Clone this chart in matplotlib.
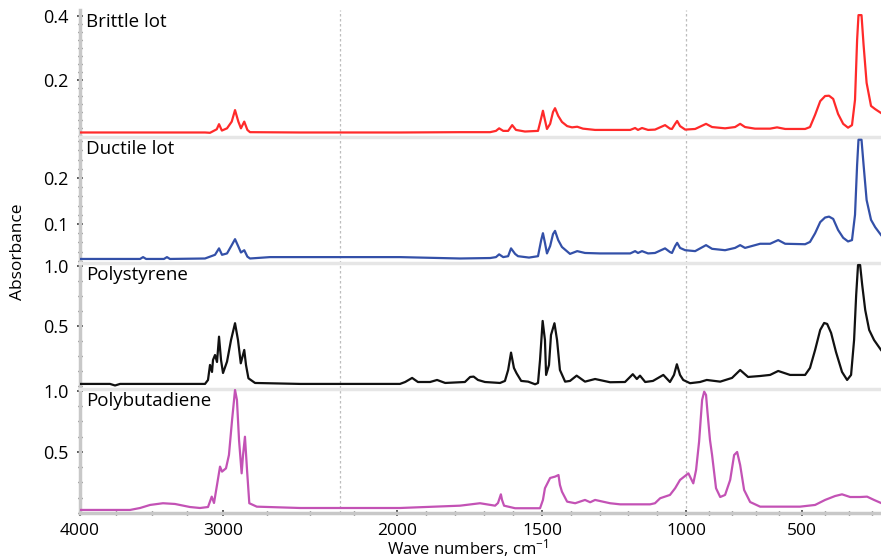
import numpy as np
import matplotlib.pyplot as plt
from matplotlib.ticker import FixedLocator, MultipleLocator, FormatStrFormatter

plt.rcParams['font.family'] = ['Open Sans', 'DejaVu Sans']
plt.rcParams['mathtext.default'] = 'regular'

# ---- spectra (wave number, absorbance) ----
brittle_wn = [4000, 3126, 3091, 3044, 3028, 3008, 2977, 2950, 2931, 2912, 2897, 2878, 2860, 2845,
              2557, 1990, 1783, 1679, 1659, 1648, 1634, 1617, 1603, 1590, 1559, 1514, 1503, 1497,
              1490, 1483, 1472, 1462, 1455, 1444, 1431, 1413, 1396, 1378, 1358, 1316, 1194, 1177,
              1167, 1153, 1132, 1108, 1073, 1056, 1049, 1038, 1031, 1021, 1003, 961, 914, 888,
              832, 789, 767, 746, 703, 638, 608, 573, 487, 466, 444, 422, 401, 384, 366, 345,
              323, 302, 285, 272, 263, 257, 244, 235, 222, 203, 185, 160]
brittle_abs = [0.036, 0.036, 0.035, 0.046, 0.062, 0.042, 0.049, 0.070, 0.106, 0.070, 0.049, 0.070,
               0.044, 0.037, 0.036, 0.036, 0.037, 0.037, 0.041, 0.049, 0.041, 0.041, 0.059, 0.044,
               0.039, 0.041, 0.081, 0.104, 0.075, 0.047, 0.063, 0.100, 0.112, 0.088, 0.069, 0.056,
               0.052, 0.054, 0.048, 0.044, 0.044, 0.050, 0.044, 0.050, 0.044, 0.045, 0.059, 0.048,
               0.047, 0.063, 0.072, 0.056, 0.045, 0.047, 0.063, 0.053, 0.049, 0.053, 0.063, 0.053,
               0.048, 0.048, 0.052, 0.047, 0.047, 0.053, 0.091, 0.134, 0.150, 0.151, 0.141, 0.094,
               0.063, 0.051, 0.059, 0.138, 0.325, 0.403, 0.403, 0.309, 0.191, 0.119, 0.109, 0.097]

ductile_wn = [4000, 3580, 3559, 3538, 3413, 3392, 3371, 3126, 3091, 3056, 3028, 3007, 2977, 2950,
              2931, 2912, 2897, 2878, 2860, 2845, 2730, 1990, 1783, 1679, 1659, 1648, 1634, 1617,
              1607, 1593, 1583, 1545, 1514, 1503, 1497, 1490, 1483, 1472, 1462, 1455, 1444, 1431,
              1403, 1378, 1351, 1299, 1194, 1177, 1167, 1153, 1132, 1108, 1073, 1056, 1049, 1038,
              1031, 1021, 1003, 961, 914, 888, 832, 789, 767, 746, 681, 638, 603, 573, 487, 466,
              444, 422, 401, 384, 366, 345, 323, 302, 285, 272, 263, 257, 244, 235, 222, 203,
              185, 160]
ductile_abs = [0.024, 0.024, 0.028, 0.024, 0.024, 0.028, 0.024, 0.025, 0.029, 0.033, 0.047, 0.033,
               0.036, 0.054, 0.067, 0.051, 0.038, 0.043, 0.029, 0.025, 0.028, 0.028, 0.025, 0.026,
               0.028, 0.034, 0.028, 0.030, 0.047, 0.035, 0.030, 0.027, 0.030, 0.065, 0.080, 0.059,
               0.036, 0.052, 0.078, 0.085, 0.065, 0.050, 0.035, 0.041, 0.037, 0.036, 0.036, 0.041,
               0.037, 0.041, 0.036, 0.037, 0.047, 0.039, 0.037, 0.052, 0.059, 0.048, 0.043, 0.041,
               0.054, 0.046, 0.043, 0.048, 0.054, 0.048, 0.057, 0.057, 0.065, 0.057, 0.056, 0.061,
               0.080, 0.104, 0.114, 0.116, 0.111, 0.087, 0.070, 0.062, 0.065, 0.120, 0.228, 0.283,
               0.283, 0.228, 0.152, 0.109, 0.093, 0.076]

ps_wn = [4000, 3790, 3755, 3720, 3126, 3105, 3091, 3077, 3070, 3056, 3042, 3028, 3014, 3000, 2977,
         2954, 2931, 2914, 2898, 2878, 2868, 2854, 2816, 2557, 1990, 1972, 1948, 1928, 1886, 1862,
         1834, 1783, 1766, 1748, 1736, 1721, 1697, 1645, 1628, 1617, 1607, 1597, 1588, 1572, 1548,
         1524, 1514, 1507, 1498, 1490, 1486, 1476, 1469, 1457, 1448, 1438, 1420, 1403, 1380, 1351,
         1316, 1264, 1212, 1185, 1171, 1160, 1142, 1115, 1079, 1056, 1042, 1032, 1021, 1010, 983,
         940, 911, 853, 802, 767, 733, 681, 638, 603, 552, 487, 466, 444, 422, 405, 392, 375, 354,
         328, 306, 289, 276, 267, 259, 250, 241, 228, 211, 190, 160]
ps_abs = [0.017, 0.017, 0.004, 0.017, 0.017, 0.050, 0.175, 0.117, 0.217, 0.258, 0.200, 0.411, 0.217,
          0.108, 0.203, 0.383, 0.523, 0.383, 0.189, 0.300, 0.175, 0.064, 0.025, 0.017, 0.017, 0.033,
          0.067, 0.033, 0.033, 0.050, 0.025, 0.031, 0.033, 0.075, 0.078, 0.050, 0.033, 0.025, 0.042,
          0.133, 0.278, 0.150, 0.106, 0.042, 0.036, 0.014, 0.025, 0.217, 0.542, 0.383, 0.092, 0.175,
          0.425, 0.523, 0.383, 0.133, 0.036, 0.042, 0.086, 0.036, 0.058, 0.031, 0.033, 0.098, 0.058,
          0.086, 0.033, 0.042, 0.092, 0.033, 0.092, 0.181, 0.092, 0.050, 0.023, 0.033, 0.050, 0.036,
          0.067, 0.133, 0.075, 0.083, 0.092, 0.125, 0.092, 0.092, 0.150, 0.300, 0.467, 0.525, 0.517,
          0.442, 0.283, 0.117, 0.050, 0.092, 0.383, 0.758, 1.008, 1.008, 0.842, 0.633, 0.467, 0.383,
          0.300]

pb_wn = [4000, 3650, 3580, 3510, 3420, 3336, 3231, 3161, 3105, 3079, 3063, 3042, 3021, 3007, 2983,
         2966, 2948, 2931, 2920, 2908, 2893, 2885, 2874, 2862, 2849, 2806, 2557, 1990, 1783, 1714,
         1662, 1652, 1642, 1638, 1631, 1593, 1507, 1497, 1490, 1472, 1455, 1443, 1438, 1431, 1413,
         1385, 1351, 1333, 1316, 1264, 1229, 1125, 1108, 1090, 1056, 1038, 1021, 990, 969, 957, 944,
         931, 922, 914, 908, 897, 888, 871, 853, 832, 810, 793, 780, 767, 750, 724, 681, 509, 444,
         401, 358, 328, 293, 250, 220, 190, 160]
pb_abs = [0.025, 0.025, 0.041, 0.066, 0.080, 0.074, 0.049, 0.041, 0.049, 0.134, 0.082, 0.230, 0.380,
          0.339, 0.366, 0.475, 0.762, 1.008, 0.926, 0.598, 0.325, 0.475, 0.625, 0.352, 0.080, 0.052,
          0.041, 0.041, 0.060, 0.080, 0.060, 0.082, 0.153, 0.107, 0.060, 0.039, 0.039, 0.107, 0.203,
          0.287, 0.298, 0.311, 0.230, 0.175, 0.093, 0.080, 0.107, 0.088, 0.107, 0.080, 0.071, 0.071,
          0.080, 0.121, 0.148, 0.203, 0.271, 0.325, 0.243, 0.352, 0.584, 0.926, 0.994, 0.967, 0.830,
          0.598, 0.475, 0.203, 0.131, 0.148, 0.271, 0.475, 0.500, 0.393, 0.189, 0.090, 0.052, 0.052,
          0.066, 0.107, 0.139, 0.153, 0.131, 0.131, 0.134, 0.107, 0.082]

names = ['Brittle lot', 'Ductile lot', 'Polystyrene', 'Polybutadiene']
colors = ['#ff2a2a', '#3350a8', '#111111', '#c352b5']
y_limits = [(0.025, 0.419), (0.0152, 0.289), (-0.017, 1.025), (0.0, 1.016)]
y_major = [[0.2, 0.4], [0.1, 0.2], [0.5, 1.0], [0.5, 1.0]]
y_minor = [0.025, 0.02, 0.125, 0.125]

x_major = [4000, 3000, 2000, 1500, 1000, 500]
x_minor = [3750, 3500, 3250, 2750, 2500, 2250] + \
          [w for w in range(1900, 1000, -100) if w != 1500] + \
          [w for w in range(900, 150, -100) if w != 500]
grid_lines = [2328, 1000]

# instrument-style split wave-number axis
scale_wn = [0, 500, 1000, 1500, 2000, 3000, 4000, 5000]
scale_pos = [0, 116, 232, 376, 521, 695, 838, 981]


def fwd(w):
    return np.interp(w, scale_wn, scale_pos)


def inv(u):
    return np.interp(u, scale_pos, scale_wn)


spectra = [(brittle_wn, brittle_abs), (ductile_wn, ductile_abs), (ps_wn, ps_abs), (pb_wn, pb_abs)]
panel_px = [(10, 136), (137, 263), (263, 388), (389, 513)]

W, H = 881, 560
fig = plt.figure(figsize=(W / 100, H / 100), dpi=100)

for i, (wn, ab) in enumerate(spectra):
    top, bot = panel_px[i]
    ax = fig.add_axes([80 / W, 1 - bot / H, 801 / W, (bot - top) / H])
    ax.set_xscale('function', functions=(fwd, inv))
    for g in grid_lines:
        ax.axvline(g, color='#bdbdbd', lw=0.9, ls=(0, (2, 2)), zorder=1)
    ax.plot(wn, ab, color=colors[i], lw=1.6, zorder=3)
    ax.set_xlim(4000, 160)
    ax.set_ylim(*y_limits[i])

    ax.yaxis.set_major_locator(FixedLocator(y_major[i]))
    ax.yaxis.set_major_formatter(FormatStrFormatter('%.1f'))
    ax.yaxis.set_minor_locator(MultipleLocator(y_minor[i]))
    ax.xaxis.set_major_locator(FixedLocator(x_major))
    ax.xaxis.set_minor_locator(FixedLocator(x_minor))
    ax.xaxis.set_major_formatter(FormatStrFormatter('%d'))

    ax.spines['right'].set_visible(False)
    ax.spines['left'].set_color('#c8c8c8')
    ax.spines['left'].set_linewidth(2.5)
    if i == 0:
        ax.spines['top'].set_visible(False)
    else:
        ax.spines['top'].set_color('#e6e6e6')
        ax.spines['top'].set_linewidth(2.5)
    if i == 3:
        ax.spines['bottom'].set_color('#c8c8c8')
        ax.spines['bottom'].set_linewidth(2.5)
        ax.tick_params(axis='x', which='major', direction='inout', length=4, width=1.2,
                       color='#404040', labelsize=12.5, pad=5)
        ax.tick_params(axis='x', which='minor', direction='inout', length=2.5, width=1,
                       color='#404040')
    else:
        ax.spines['bottom'].set_visible(False)
        ax.tick_params(axis='x', which='both', bottom=False, labelbottom=False)

    ax.tick_params(axis='y', which='major', direction='inout', length=4, width=1.2,
                   color='#404040', labelsize=13, pad=6)
    ax.tick_params(axis='y', which='minor', direction='inout', length=2.5, width=1,
                   color='#404040')
    ax.set_facecolor('none')

    ax.annotate(names[i], xy=(0, 1), xycoords='axes fraction', xytext=(4.5, -2),
                textcoords='offset points', ha='left', va='top', fontsize=13.5)

fig.text(18 / W, 1 - 252 / H, 'Absorbance', rotation=90, ha='center', va='center', fontsize=12.5)
fig.text(468 / W, 1 - 548 / H, 'Wave numbers, cm$^{-1}$', ha='center', va='center', fontsize=12)

fig.savefig('out.png', dpi=100)
